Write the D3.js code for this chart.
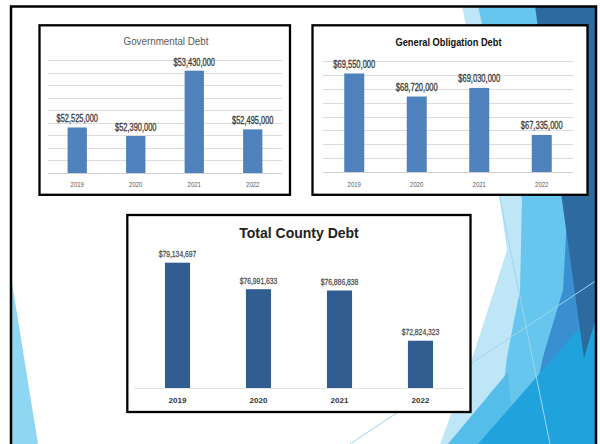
<!DOCTYPE html>
<html>
<head>
<meta charset="utf-8">
<script src="https://cdn.jsdelivr.net/npm/d3@7"></script>
<style>
  html, body { margin: 0; padding: 0; background: #ffffff; }
  svg { display: block; }
</style>
</head>
<body>
<svg id="slide" width="600" height="444"></svg>
<script>
// ---------------- DATA ----------------
const years = ["2019", "2020", "2021", "2022"];
const governmentalDebt = [52525000, 52390000, 53430000, 52495000];
const generalObligationDebt = [69550000, 68720000, 69030000, 67335000];
const totalCountyDebt = [79134697, 76991633, 76886838, 72824323];
const chartTitles = ["Governmental Debt", "General Obligation Debt", "Total County Debt"];
// value-axis ranges
const govAxis = { min: 51800000, max: 53600000, step: 200000 };
const goAxis = { min: 66000000, max: 70000000, step: 500000 };
const totalAxis = { min: 69000000, max: 80000000, step: 0 };

// ---------------- DRAW ----------------
const svg = d3.select("#slide");
const fmt = d3.format("$,");
const SANS = "'Liberation Sans', Arial, sans-serif";

// horizontally condense text (emulates the narrow Calibri face of the original)
function condense(sel, factor) {
  if (factor >= 1) return;
  sel.each(function () {
    const w = this.getComputedTextLength();
    d3.select(this).attr("textLength", (w * factor).toFixed(2)).attr("lengthAdjust", "spacingAndGlyphs");
  });
}

// background decoration (theme facets)
const deco = svg.append("g");
const polys = [
  { fill: "#8fd6f2", pts: [[12, 283], [12, 444], [38, 444]] },
  { fill: "#bfe6f7", pts: [[462, 6], [485, 6], [530, 200], [505, 444], [440, 444], [475, 350], [507, 250], [500, 200]] },
  { fill: "#66c6ee", pts: [[478, 6], [597, 6], [597, 444], [497, 444], [507, 357], [520, 290], [522, 200]] },
  { fill: "#55bde9", pts: [[448, 444], [508, 372], [515, 444]] },
  { fill: "#3a8fd0", pts: [[568, 200], [597, 200], [597, 444], [525, 444], [543, 357], [563, 290]] },
  { fill: "#20a2dd", pts: [[597, 308], [597, 444], [478, 444]] },
  { fill: "#2c6aa0", pts: [[535, 6], [597, 6], [597, 315], [584, 358]] }
];
deco.selectAll("polygon").data(polys).join("polygon")
  .attr("points", d => d.pts.map(p => p.join(",")).join(" "))
  .attr("fill", d => d.fill);
const thinLines = [
  [[490, 150], [550, 444]],
  [[350, 444], [597, 280]]
];
deco.selectAll("line").data(thinLines).join("line")
  .attr("x1", d => d[0][0]).attr("y1", d => d[0][1])
  .attr("x2", d => d[1][0]).attr("y2", d => d[1][1])
  .attr("stroke", "#9ad6f2").attr("stroke-width", 1);

// outer slide frame
svg.append("rect")
  .attr("x", 11).attr("y", 6.5).attr("width", 585).attr("height", 460)
  .attr("fill", "none").attr("stroke", "#000").attr("stroke-width", 2.5);

function drawChart(cfg) {
  const g = svg.append("g");
  g.append("rect")
    .attr("x", cfg.box[0]).attr("y", cfg.box[1])
    .attr("width", cfg.box[2]).attr("height", cfg.box[3])
    .attr("fill", "#fff").attr("stroke", "#000").attr("stroke-width", 2.3);

  const x = d3.scaleBand().domain(years).range(cfg.xRange)
    .paddingInner(cfg.pad).paddingOuter(cfg.pad / 2);
  const y = d3.scaleLinear().domain([cfg.axis.min, cfg.axis.max]).range(cfg.yRange);

  if (cfg.axis.step > 0) {
    const ticks = d3.range(cfg.axis.min, cfg.axis.max + cfg.axis.step / 2, cfg.axis.step);
    g.selectAll("line.grid").data(ticks).join("line")
      .attr("class", "grid")
      .attr("x1", cfg.xRange[0]).attr("x2", cfg.xRange[1])
      .attr("y1", d => Math.round(y(d)) + 0.5).attr("y2", d => Math.round(y(d)) + 0.5)
      .attr("stroke", (d, i) => i === 0 ? "#d0d0d0" : "#dcdcdc").attr("stroke-width", 1.2);
  } else {
    g.append("line")
      .attr("x1", cfg.xRange[0] - 3).attr("x2", cfg.xRange[1] + 3)
      .attr("y1", y(cfg.axis.min) + 0.5).attr("y2", y(cfg.axis.min) + 0.5)
      .attr("stroke", "#e6e6e6").attr("stroke-width", 1);
  }

  g.selectAll("rect.bar").data(cfg.values).join("rect")
    .attr("class", "bar")
    .attr("x", (d, i) => x(years[i]))
    .attr("width", x.bandwidth())
    .attr("y", d => y(d))
    .attr("height", d => y(cfg.axis.min) - y(d))
    .attr("fill", cfg.barColor);

  g.selectAll("text.val").data(cfg.values).join("text")
    .attr("class", "val")
    .attr("x", (d, i) => x(years[i]) + x.bandwidth() / 2)
    .attr("y", d => y(d) - cfg.labelGap)
    .attr("text-anchor", "middle")
    .attr("font-family", SANS)
    .attr("font-size", cfg.labelSize)
    .attr("fill", cfg.labelColor)
    .attr("stroke", cfg.labelColor)
    .attr("stroke-width", 0.3)
    .text(d => fmt(d))
    .call(condense, cfg.labelSquash);

  g.selectAll("text.cat").data(years).join("text")
    .attr("class", "cat")
    .attr("x", d => x(d) + x.bandwidth() / 2)
    .attr("y", cfg.catY)
    .attr("text-anchor", "middle")
    .attr("font-family", SANS)
    .attr("font-weight", cfg.catWeight)
    .attr("font-size", cfg.catSize)
    .attr("fill", cfg.catColor)
    .text(d => d)
    .call(condense, cfg.catSquash);

  g.append("text")
    .attr("x", cfg.titlePos[0]).attr("y", cfg.titlePos[1])
    .attr("text-anchor", "middle")
    .attr("font-family", SANS)
    .attr("font-weight", cfg.titleWeight)
    .attr("font-size", cfg.titleSize)
    .attr("fill", cfg.titleColor)
    .text(cfg.title)
    .call(condense, cfg.titleSquash);
}

drawChart({
  box: [39.5, 25.3, 250.5, 169.5],
  xRange: [48, 282], yRange: [173, 60], pad: 0.67,
  axis: govAxis, values: governmentalDebt, barColor: "#4f81bd",
  labelGap: 5, labelSize: 10.2, labelColor: "#3a3a3a", labelSquash: 0.73,
  catY: 186.5, catWeight: "normal", catSize: 8, catColor: "#595959", catSquash: 0.75,
  title: chartTitles[0], titlePos: [166, 45], titleWeight: "normal",
  titleSize: 11.8, titleColor: "#595959", titleSquash: 0.83
});

drawChart({
  box: [312.5, 25.3, 275, 169.5],
  xRange: [323, 573], yRange: [172, 61], pad: 0.68,
  axis: goAxis, values: generalObligationDebt, barColor: "#4f81bd",
  labelGap: 5.5, labelSize: 10.2, labelColor: "#3a3a3a", labelSquash: 0.74,
  catY: 186.5, catWeight: "normal", catSize: 8, catColor: "#595959", catSquash: 0.75,
  title: chartTitles[1], titlePos: [448.5, 46], titleWeight: "bold",
  titleSize: 11.5, titleColor: "#111", titleSquash: 0.805
});

drawChart({
  box: [127.3, 215, 343.2, 197],
  xRange: [137, 461], yRange: [388, 252], pad: 0.69,
  axis: totalAxis, values: totalCountyDebt, barColor: "#325d91",
  labelGap: 5.5, labelSize: 9.3, labelColor: "#555555", labelSquash: 0.73,
  catY: 403, catWeight: "bold", catSize: 8, catColor: "#333333", catSquash: 1,
  title: chartTitles[2], titlePos: [299, 238.3], titleWeight: "bold",
  titleSize: 14, titleColor: "#222", titleSquash: 1
});
</script>
</body>
</html>
